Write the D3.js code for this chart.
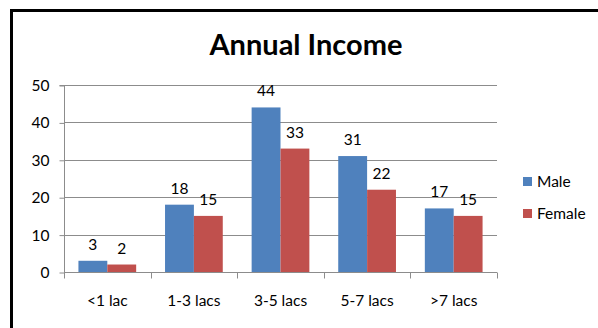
<!DOCTYPE html>
<html><head><meta charset="utf-8">
<script src="https://cdn.jsdelivr.net/npm/d3@7"></script>
<style>
html,body{margin:0;padding:0;background:#fff;}
svg{display:block;}
text{font-family:Lato,"Open Sans",sans-serif;}
</style></head>
<body>
<script>
const categories = ["<1 lac", "1-3 lacs", "3-5 lacs", "5-7 lacs", ">7 lacs"];
const seriesNames = ["Male", "Female"];
const maleValues = [3, 18, 44, 31, 17];
const femaleValues = [2, 15, 33, 22, 15];
const yTicks = [0, 10, 20, 30, 40, 50];
const colors = ["#4F81BD", "#C0504D"];
const titleText = "Annual Income";

const W = 598, H = 328;
const svg = d3.select("body").append("svg").attr("width", W).attr("height", H);

// outer border
svg.append("rect").attr("x", 11.5).attr("y", 10.5).attr("width", W + 20).attr("height", H + 20)
  .attr("fill", "#fff").attr("stroke", "#000").attr("stroke-width", 3);

const plot = {left: 64, right: 497, top: 85, bottom: 272};
const x = d3.scaleBand().domain(categories).range([plot.left, plot.right]).paddingInner(0).paddingOuter(0);
const inner = d3.scaleBand().domain(seriesNames).range([0, x.bandwidth()]).paddingInner(0).paddingOuter(0.5);
const y = d3.scaleLinear().domain([0, 50]).range([plot.bottom, plot.top]);

// gridlines
svg.append("g").selectAll("line").data(yTicks.filter(d => d > 0)).join("line")
  .attr("x1", plot.left).attr("x2", plot.right)
  .attr("y1", d => Math.round(y(d)) + 0.5).attr("y2", d => Math.round(y(d)) + 0.5)
  .attr("stroke", "#8c8c8c").attr("stroke-width", 1);

// y axis
const yAxis = d3.axisLeft(y).tickValues(yTicks).tickSize(5).tickPadding(10);
const gy = svg.append("g").attr("transform", `translate(${plot.left + 0.5},0.5)`).call(yAxis);
gy.select(".domain").attr("stroke", "#8c8c8c").attr("d", `M-5,${plot.top}H0V${plot.bottom}`);
gy.selectAll(".tick line").attr("stroke", "#8c8c8c");
gy.selectAll(".tick text").attr("font-size", 15.5).attr("fill", "#000").attr("font-family", "Lato, sans-serif");

// bars
const data = categories.map((c, i) => ({cat: c, vals: [maleValues[i], femaleValues[i]]}));
const groups = svg.append("g").selectAll("g").data(data).join("g")
  .attr("transform", d => `translate(${x(d.cat)},0)`);
groups.selectAll("rect").data(d => d.vals.map((v, j) => ({s: seriesNames[j], v, j}))).join("rect")
  .attr("x", d => inner(d.s)).attr("width", inner.bandwidth())
  .attr("y", d => y(d.v)).attr("height", d => y(0) - y(d.v))
  .attr("fill", d => colors[d.j]);
groups.selectAll("text").data(d => d.vals.map((v, j) => ({s: seriesNames[j], v, j}))).join("text")
  .attr("x", d => inner(d.s) + inner.bandwidth() / 2).attr("y", d => y(d.v) - 11)
  .attr("text-anchor", "middle").attr("font-size", 15.5).attr("fill", "#000")
  .text(d => d.v);

// x axis
const xAxis = d3.axisBottom(x).tickSize(0).tickPadding(22);
const gx = svg.append("g").attr("transform", `translate(0,${plot.bottom + 0.5})`).call(xAxis);
gx.select(".domain").attr("stroke", "#8c8c8c").attr("d", `M${plot.left},0H${plot.right}`);
gx.selectAll(".tick text").attr("font-size", 15.5).attr("fill", "#000").attr("font-family", "Lato, sans-serif");
// category boundary ticks
const bounds = d3.range(categories.length + 1).map(i => plot.left + i * x.step());
gx.append("g").selectAll("line").data(bounds).join("line")
  .attr("x1", d => Math.round(d) + 0.5).attr("x2", d => Math.round(d) + 0.5)
  .attr("y1", 0).attr("y2", 6).attr("stroke", "#8c8c8c");

// title
svg.append("text").attr("x", 306).attr("y", 55).attr("text-anchor", "middle")
  .attr("font-size", 29).attr("font-weight", "bold").attr("fill", "#000").text(titleText);

// legend
const lg = svg.append("g").attr("transform", "translate(523,177)");
const li = lg.selectAll("g").data(seriesNames).join("g").attr("transform", (d, i) => `translate(0,${i * 32})`);
li.append("rect").attr("width", 9).attr("height", 9).attr("fill", (d, i) => colors[i]);
li.append("text").attr("x", 14).attr("y", 10).attr("font-size", 15.5).attr("fill", "#000").text(d => d);
</script>
</body></html>
